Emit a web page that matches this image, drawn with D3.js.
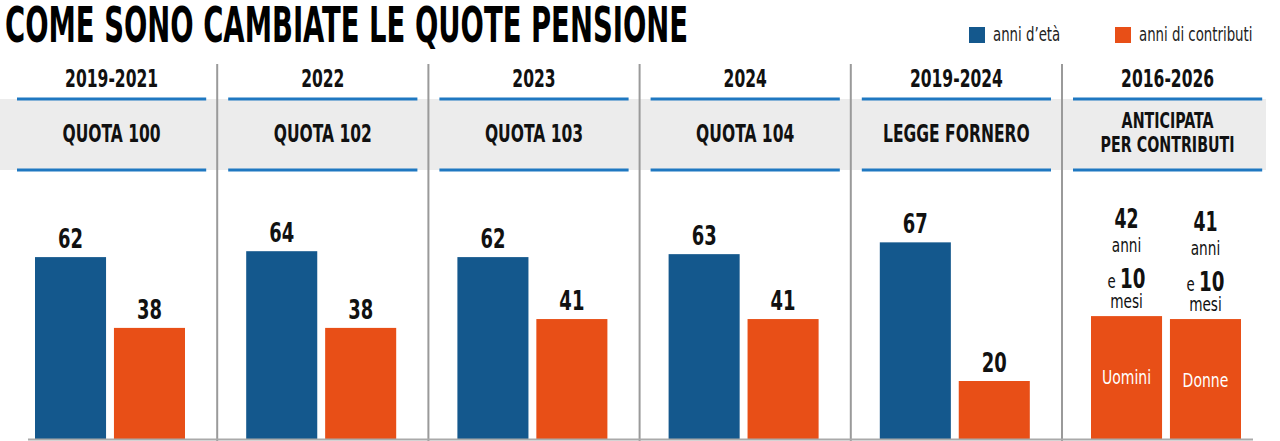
<!DOCTYPE html>
<html><head><meta charset="utf-8">
<script src="https://cdn.jsdelivr.net/npm/d3@7"></script>
<style>
html,body{margin:0;padding:0;background:#fff;}
svg{display:block;}
text{font-family:"Liberation Sans Narrow","DejaVu Sans Condensed","Roboto",sans-serif;}
</style></head>
<body><svg id="chart" width="1280" height="441"></svg>
<script>
// ---- data ----
const title = "COME SONO CAMBIATE LE QUOTE PENSIONE";
const legendLabels = ["anni d’età", "anni di contributi"];
const periods = ["2019-2021", "2022", "2023", "2024", "2019-2024", "2016-2026"];
const schemes = [["QUOTA 100"], ["QUOTA 102"], ["QUOTA 103"], ["QUOTA 104"], ["LEGGE FORNERO"], ["ANTICIPATA", "PER CONTRIBUTI"]];
const series = ["eta", "contributi"];
const anniEta = [62, 64, 62, 63, 67];
const anniContributi = [38, 38, 41, 41, 20];
const anticipataGroups = ["Uomini", "Donne"];
const anticipataAnni = [42, 41];
const anticipataMesi = [10, 10];

// ---- styles ----
const BLUE = "#14588d", ORANGE = "#e84f17", LINE = "#1f78c1", BAND = "#ececec", DIV = "#9a9a9a";
const SX_BOLD = 0.72, SX_REG = 0.8;
const svg = d3.select("#chart");
const W = 1280, H = 441;
const baseY = 440;

const panelX = d3.scaleLinear().domain([0, 1]).range([6, 217.2]);
const panelW = 211.2;
const y = d3.scaleLinear().domain([0, 70]).range([baseY, baseY - 70 * 2.95]);

function label(parent, x, yy, txt, size, bold, sx, anchor, fill) {
  return parent.append("text")
    .attr("transform", `translate(${x},${yy}) scale(${sx},1)`)
    .attr("text-anchor", anchor || "middle")
    .attr("font-size", size).attr("font-weight", bold ? 700 : 400)
    .attr("fill", fill || "#111").text(txt);
}

// title
svg.append("text").attr("x", 5).attr("y", 42)
  .attr("font-size", 49).attr("font-weight", 700)
  .attr("textLength", 683).attr("lengthAdjust", "spacingAndGlyphs")
  .attr("fill", "#000").text(title);

// legend
const legX = [969, 1115];
legendLabels.forEach((l, i) => {
  svg.append("rect").attr("x", legX[i]).attr("y", 27).attr("width", 16).attr("height", 16)
    .attr("fill", i === 0 ? BLUE : ORANGE);
  label(svg, legX[i] + 24, 41, l, 19, false, 0.78, "start", "#222");
});

// grey header band
svg.append("rect").attr("x", 0).attr("y", 99).attr("width", 1266).attr("height", 71).attr("fill", BAND);

// panels
periods.forEach((p, i) => {
  const x0 = panelX(i);
  const cx = x0 + panelW / 2;
  const g = svg.append("g");
  label(g, cx, 87, p, 24, true, SX_BOLD);
  [99, 170].forEach(yy => g.append("line").attr("x1", x0 + 11).attr("x2", x0 + panelW - 11)
    .attr("y1", yy).attr("y2", yy).attr("stroke", LINE).attr("stroke-width", 3));
  const lines = schemes[i];
  const fs = lines.length > 1 ? 22 : 24;
  const ys = lines.length > 1 ? [128, 152] : [142];
  lines.forEach((t, k) => label(g, cx, ys[k], t, fs, true, SX_BOLD));
});

// dividers
d3.range(1, 6).forEach(i => {
  const xx = panelX(i);
  svg.append("line").attr("x1", xx).attr("x2", xx).attr("y1", 64).attr("y2", H)
    .attr("stroke", DIV).attr("stroke-width", 2);
});

// bars for first five panels
for (let i = 0; i < 5; i++) {
  const x0 = panelX(i);
  const xb = d3.scaleBand().domain(series).range([x0 + 29, x0 + 179]).paddingInner(0.1).paddingOuter(0);
  const vals = [anniEta[i], anniContributi[i]];
  series.forEach((s, k) => {
    svg.append("rect").attr("x", xb(s)).attr("y", y(vals[k])).attr("width", xb.bandwidth())
      .attr("height", baseY - y(vals[k])).attr("fill", k === 0 ? BLUE : ORANGE);
    label(svg, xb(s) + xb.bandwidth() / 2, y(vals[k]) - 9, vals[k], 27, true, 0.74);
  });
}

// anticipata panel
{
  const x0 = panelX(5);
  const xb = d3.scaleBand().domain(anticipataGroups).range([x0 + 29, x0 + 179]).paddingInner(0.1).paddingOuter(0);
  anticipataGroups.forEach((gname, k) => {
    const top = y(anticipataAnni[k]);
    const cx = xb(gname) + xb.bandwidth() / 2;
    svg.append("rect").attr("x", xb(gname)).attr("y", top).attr("width", xb.bandwidth())
      .attr("height", baseY - top).attr("fill", ORANGE);
    label(svg, cx, top + 68, gname, 19, false, 0.82, "middle", "#fff");
    label(svg, cx, top - 88, anticipataAnni[k], 26, true, 0.74);
    label(svg, cx, top - 64, "anni", 19, false, SX_REG);
    const t = svg.append("text").attr("transform", `translate(${cx},${top - 28}) scale(0.78,1)`)
      .attr("text-anchor", "middle").attr("fill", "#111");
    t.append("tspan").attr("font-size", 19).text("e ");
    t.append("tspan").attr("font-size", 26).attr("font-weight", 700).text(anticipataMesi[k]);
    label(svg, cx, top - 8, "mesi", 19, false, SX_REG);
  });
}

// baseline
svg.append("line").attr("x1", 28).attr("x2", 1253).attr("y1", 439.5).attr("y2", 439.5)
  .attr("stroke", "#aaa").attr("stroke-width", 2);
</script></body></html>
